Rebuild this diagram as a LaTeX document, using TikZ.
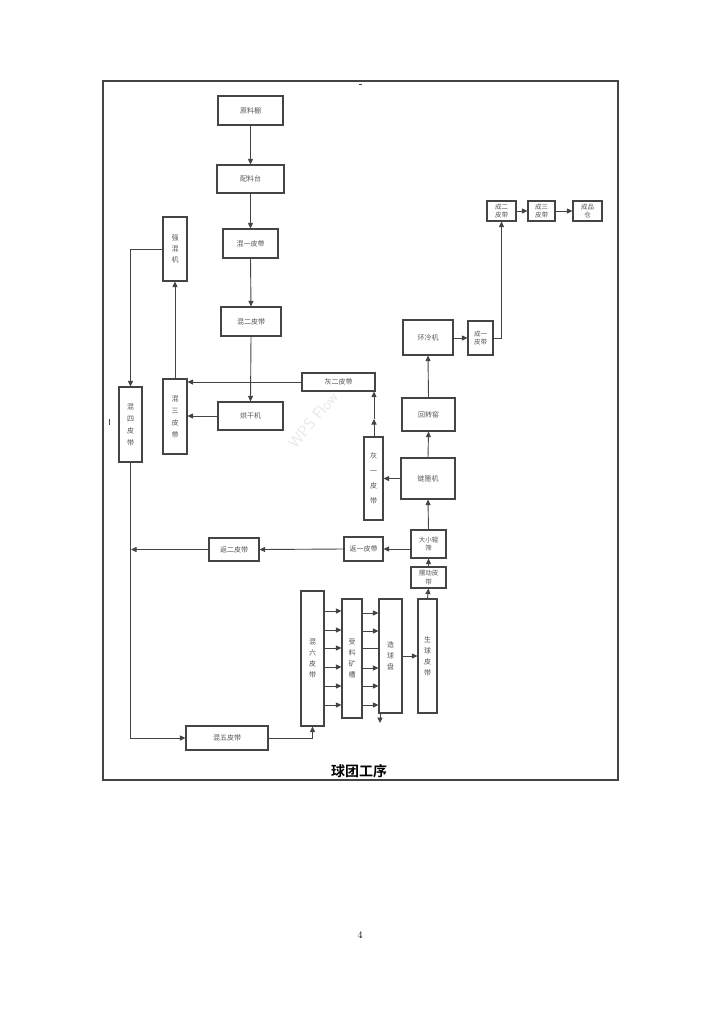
\documentclass[tikz,border=0pt]{standalone}
\usepackage{fontspec}
\newfontfamily\cjk{Noto Sans CJK SC}[BoldFont={Noto Sans CJK SC Bold}]
\usetikzlibrary{arrows.meta,calc}
\definecolor{lnc}{HTML}{444444}
\definecolor{txc}{HTML}{555555}
\newcommand\mybox[6]{%
  \node[box,minimum width={#4-#2},minimum height={#5-#3}] (#1) at ({(#2+#4)/2},{(#3+#5)/2}) {#6};}
\begin{document}
\begin{tikzpicture}[x=1pt,y=-1pt,
  box/.style={draw=lnc,line width=1.1pt,fill=white,inner sep=0pt,text=txc,
    font=\cjk\fontsize{7}{9}\selectfont,align=center},
  vt/.style={font=\cjk\fontsize{7}{12}\selectfont},
  sm/.style={font=\cjk\fontsize{6.5}{8.5}\selectfont},
  arr/.style={draw=lnc,line width=0.9pt,-{Triangle[length=5.5pt,width=5pt]}},
  plain/.style={draw=lnc,line width=0.9pt}]
\useasboundingbox (0,0) rectangle (722,1013);
% frame
\draw[draw=lnc,line width=1.2pt] (103,81) rectangle (618,780);
\draw[plain] (109,419) -- (109,425);
\draw[plain] (359,84) -- (362,84);
% watermark
\node[rotate=50,text=black!9,font=\sffamily\fontsize{16}{16}\selectfont] (wm) at (313,420) {WPS Flow};
% boxes
\mybox{ylp}{218}{96}{283}{125}{原料棚}
\mybox{plt}{217}{165}{284}{193}{配料台}
\mybox{h1}{223}{229}{278}{258}{混一皮带}
\mybox{h2}{221}{307}{281}{336}{混二皮带}
\mybox{hgj}{218}{402}{283}{430}{烘干机}
\mybox{hui2}{302}{373}{375}{391}{灰二皮带}
\node[box,vt,minimum width=19,minimum height=83,font=\cjk\fontsize{7}{15}\selectfont] (hui1) at (373.5,478.5) {灰\\一\\皮\\带};
\node[box,vt,minimum width=24,minimum height=75] (h3) at (175,416.5) {混\\三\\皮\\带};
\node[box,vt,minimum width=23,minimum height=75] (h4) at (130.5,424.5) {混\\四\\皮\\带};
\node[box,vt,minimum width=24,minimum height=64,font=\cjk\fontsize{7}{11}\selectfont] (qhj) at (175,249) {强\\混\\机};
\mybox{hzy}{402}{398}{455}{431}{回转窑}
\mybox{lbj}{401}{458}{455}{499}{链篦机}
\mybox{hlj}{403}{320}{453}{355}{环冷机}
\node[box,sm,minimum width=25,minimum height=34] (c1) at (480.5,338) {成一\\皮带};
\node[box,sm,minimum width=29,minimum height=20] (c2) at (501.5,211) {成二\\皮带};
\node[box,sm,minimum width=27,minimum height=20] (c3) at (541.5,211) {成三\\皮带};
\node[box,sm,minimum width=29,minimum height=20] (cpc) at (587.5,211) {成品\\仓};
\node[box,sm,minimum width=35,minimum height=28] (dxs) at (428.5,544) {大小辊\\筛};
\node[box,sm,minimum width=35,minimum height=21] (bd) at (428.5,577.5) {摆动皮\\带};
\mybox{f1}{344}{537}{383}{561}{返一皮带}
\mybox{f2}{209}{538}{259}{561}{返二皮带}
\mybox{h5}{186}{726}{268}{750}{混五皮带}
\node[box,minimum width=23,minimum height=135,font=\cjk\fontsize{7}{11}\selectfont] (h6) at (312.5,658.5) {混\\六\\皮\\带};
\node[box,minimum width=20,minimum height=119,font=\cjk\fontsize{7}{11}\selectfont] (slk) at (352,658.5) {受\\料\\矿\\槽};
\node[box,minimum width=23,minimum height=114,font=\cjk\fontsize{7}{11}\selectfont] (zqp) at (390.5,656) {造\\球\\盘};
\node[box,minimum width=19,minimum height=114,font=\cjk\fontsize{7}{11}\selectfont] (sq) at (427.5,656) {生\\球\\皮\\带};
% main chain
\draw[arr] (ylp.south) -- (plt.north);
\draw[arr] (plt.south) -- (h1.north);
\draw[arr] (h1.south) -- (h2.north);
\draw[arr] (h2.south) -- (hgj.north);
\draw[arr] (hgj.west) -- (hgj.west -| h3.east);
\draw[arr] (hui2.west) -- (hui2.west -| h3.east);
\draw[arr] (h3.north) -- (qhj.south);
\draw[arr] (qhj.west) -| (h4.north);
\draw[arr] (h4.south) |- (h5.west);
\draw[arr] (h5.east) -| (h6.south);
% feed to balling
\foreach \yy in {611,630,648,667,686,705}{
  \coordinate (t) at (0,\yy);
  \draw[arr] (h6.east |- t) -- (slk.west |- t);
}
\foreach \yy in {613,631,668,686,705}{
  \coordinate (t) at (0,\yy);
  \draw[arr] (slk.east |- t) -- (zqp.west |- t);
}
\coordinate (t6) at (0,648);
\draw[plain] (slk.east |- t6) -- (zqp.west |- t6);
\coordinate (zqd) at (380,723);
\draw[arr] (zqp.south west -| zqd) -- (zqd);
\draw[arr] (zqp.east) -- (sq.west);
\draw[arr] (sq.north) -- (bd.south);
\draw[arr] (bd.north) -- (dxs.south);
\draw[arr] (dxs.north) -- (lbj.south);
\draw[arr] (lbj.north) -- (hzy.south);
\draw[arr] (hzy.north) -- (hlj.south);
\draw[arr] (hlj.east |- c1.west) -- (c1.west);
\draw[arr] (c1.east) -| (c2.south);
\draw[arr] (c2.east) -- (c3.west);
\draw[arr] (c3.east) -- (cpc.west);
% returns
\draw[arr] (f1.east -| dxs.west) -- (f1.east);
\draw[arr] (f1.west) -- (f2.east);
\coordinate (rl) at (131,549.5);
\draw[arr] (f2.west) -- (rl);
% ash
\draw[arr] (lbj.west) -- (lbj.west -| hui1.east);
\coordinate (hm) at (374,419);
\coordinate (hn) at (374,437);
\draw[arr] (hn) -- (hm);
\draw[arr] (hm) -- (hm |- hui2.south);
% title and page number
\node[font=\cjk\bfseries\fontsize{14}{14}\selectfont] (title) at (359,771) {球团工序};
\node[font=\fontsize{10}{10}\selectfont] (pg) at (360,935) {4};
\end{tikzpicture}
\end{document}
